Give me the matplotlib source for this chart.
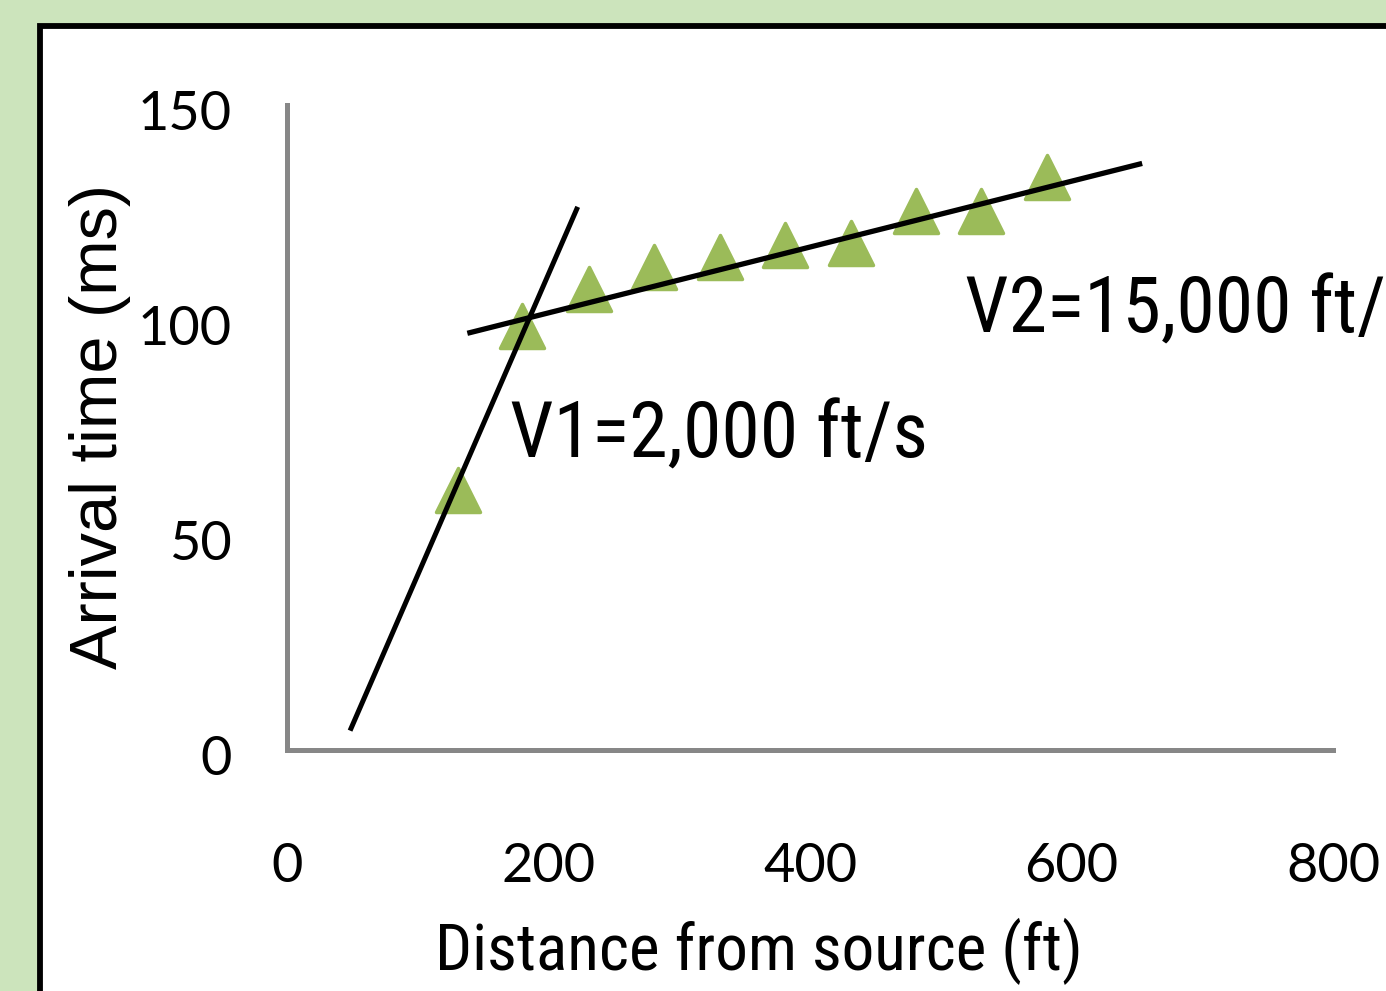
import matplotlib
matplotlib.use('Agg')
import matplotlib.pyplot as plt
import matplotlib.transforms as mtransforms
from matplotlib.markers import MarkerStyle
from matplotlib.patches import Rectangle

# Данные
distance = [131, 180, 231, 281, 331, 381, 431, 481, 531, 581]
arrival = [60.5, 98.5, 107.2, 112.3, 114.7, 117.4, 117.8, 125.4, 125.4, 133.3]

fit1_x = [48.2, 222.3]
fit1_y = [4.5, 126.3]
fit2_x = [137.9, 654.0]
fit2_y = [96.9, 136.4]

x_ticks = [0, 200, 400, 600, 800]
y_ticks = [0, 50, 100, 150]

label_v1 = 'V1=2,000 ft/s'
label_v2 = 'V2=15,000 ft/s'

narrow = ['Liberation Sans Narrow', 'Roboto Condensed', 'Liberation Sans']

fig = plt.figure(figsize=(13.86, 9.91), dpi=100)
fig.patch.set_facecolor('#cce4bc')

# белая рамка с чёрной границей
fig.add_artist(Rectangle((0.0292, -0.1), 2.0, 0.9738 + 0.1, transform=fig.transFigure,
                         facecolor='white', edgecolor='black', linewidth=4.2, zorder=0))

ax = fig.add_axes([0.2071, 0.2432, 0.7547, 0.6509])
ax.set_facecolor('none')
ax.set_xlim(0, 800)
ax.set_ylim(0, 150)

for side in ['top', 'right']:
    ax.spines[side].set_visible(False)
for side in ['left', 'bottom']:
    ax.spines[side].set_color('#878787')
    ax.spines[side].set_linewidth(3.6)

ax.set_xticks(x_ticks)
ax.set_yticks(y_ticks)
ax.tick_params(length=0, labelsize=39)
ax.tick_params(axis='x', pad=66)
ax.tick_params(axis='y', pad=40)
for lbl in ax.get_xticklabels() + ax.get_yticklabels():
    lbl.set_fontfamily('Lato')
shift = mtransforms.ScaledTranslation(0, -5 / 100, fig.dpi_scale_trans)
for lbl in ax.get_yticklabels():
    lbl.set_transform(lbl.get_transform() + shift)

marker = MarkerStyle('^', joinstyle='round')
ax.plot(distance, arrival, linestyle='none', marker=marker, markersize=32,
        markerfacecolor='#9bbb59', markeredgecolor='#9bbb59', markeredgewidth=2.5,
        clip_on=False, zorder=3)

ax.plot(fit1_x, fit1_y, color='black', linewidth=3.6, solid_capstyle='butt',
        clip_on=False, zorder=4)
ax.plot(fit2_x, fit2_y, color='black', linewidth=3.8, solid_capstyle='butt',
        clip_on=False, zorder=4)

ax.text(170.6, 67.9, label_v1, fontsize=56, family=narrow,
        va='baseline', ha='left', clip_on=False)
ax.text(518.5, 97.0, label_v2, fontsize=56, family=narrow,
        va='baseline', ha='left', clip_on=False)

ax.set_xlabel('Distance from source (ft)', fontsize=47, family=narrow,
              va='baseline')
ax.xaxis.set_label_coords(0.451, -0.341)
ax.set_ylabel('Arrival time (ms)', fontsize=48, family='Liberation Sans',
              va='baseline', rotation_mode='anchor')
ax.yaxis.set_label_coords(-0.1625, 0.502)

fig.savefig('out.png', dpi=100)
